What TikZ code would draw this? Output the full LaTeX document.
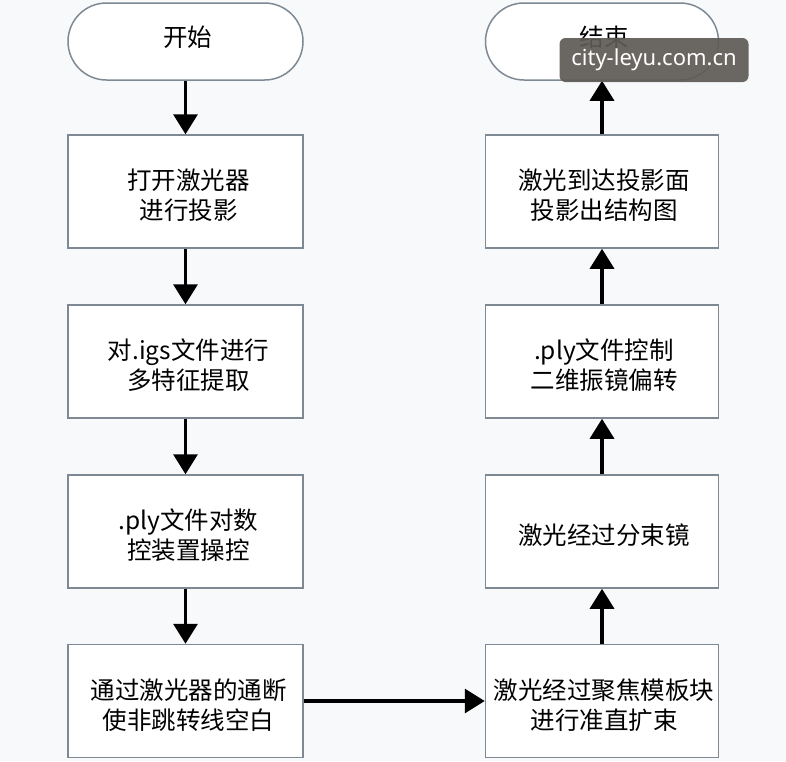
\documentclass[tikz,border=0pt]{standalone}
\usepackage{fontspec}
\newfontfamily\cjk{Noto Sans CJK SC}
\newfontfamily\wmfont{Noto Sans}
\usetikzlibrary{arrows.meta,shapes.misc}
\definecolor{bgc}{HTML}{F8F9FB}
\definecolor{boxc}{HTML}{7E8993}
\definecolor{wmc}{HTML}{5E5B56}
\tikzset{
  procbox/.style={draw=boxc, line width=1.5pt, fill=white, minimum width=235pt, minimum height=113pt, inner sep=0pt},
  termbox/.style={rounded rectangle, draw=boxc, line width=1.5pt, fill=white, minimum width=235pt, minimum height=77pt, inner sep=0pt},
  boxtext/.style={align=center, inner sep=0pt, font=\cjk\fontsize{24.5}{30}\selectfont},
  flowarrow/.style={line width=3.3pt, -{Triangle[width=24pt,length=20pt]}},
}
\begin{document}
\begin{tikzpicture}[x=1pt,y=-1pt]
\fill[bgc] (0,0) rectangle (786,761);
\useasboundingbox (0,0) rectangle (786,761);
\node[termbox] (start) at (185.5,41.5) {};
\node[procbox] (l1) at (185.5,191.5) {};
\node[procbox] (l2) at (185.5,361.5) {};
\node[procbox] (l3) at (185.5,531.5) {};
\node[procbox] (l4) at (185.5,701) {};
\node[termbox, minimum width=233pt] (end) at (602,41.5) {};
\node[procbox, minimum width=233pt] (r1) at (602,191.5) {};
\node[procbox, minimum width=233pt] (r2) at (602,361.5) {};
\node[procbox, minimum width=233pt] (r3) at (602,531.5) {};
\node[procbox, minimum width=233pt] (r4) at (602,701) {};
\node[boxtext] (startt) at ([xshift=2pt,yshift=4pt]start.center) {开始};
\node[boxtext] (l1t) at ([xshift=3pt,yshift=-4pt]l1.center) {打开激光器\\进行投影};
\node[boxtext] (l2t) at ([xshift=3pt,yshift=-4pt]l2.center) {对.igs文件进行\\多特征提取};
\node[boxtext] (l3t) at ([xshift=3pt,yshift=-4pt]l3.center) {.ply文件对数\\控装置操控};
\node[boxtext] (l4t) at ([xshift=3pt,yshift=-4pt]l4.center) {通过激光器的通断\\使非跳转线空白};
\node[boxtext] (endt) at ([xshift=2pt,yshift=4pt]end.center) {结束};
\node[boxtext] (r1t) at ([xshift=2pt,yshift=-4pt]r1.center) {激光到达投影面\\投影出结构图};
\node[boxtext] (r2t) at ([xshift=2pt,yshift=-4pt]r2.center) {.ply文件控制\\二维振镜偏转};
\node[boxtext] (r3t) at ([xshift=2pt,yshift=-4pt]r3.center) {激光经过分束镜};
\node[boxtext] (r4t) at ([xshift=2pt,yshift=-4pt]r4.center) {激光经过聚焦模板块\\进行准直扩束};
\draw[flowarrow] (start) -- (l1);
\draw[flowarrow] (l1) -- (l2);
\draw[flowarrow] (l2) -- (l3);
\draw[flowarrow] (l3) -- (l4);
\draw[flowarrow] (l4) -- (r4);
\draw[flowarrow] (r4) -- (r3);
\draw[flowarrow] (r3) -- (r2);
\draw[flowarrow] (r2) -- (r1);
\draw[flowarrow] (r1) -- (end);
\node[fill=wmc, fill opacity=0.92, text opacity=1, text=white, rounded corners=6pt, minimum width=189pt, minimum height=44pt, inner sep=0pt, font=\wmfont\fontsize{22}{26}\selectfont] (wm) at (654,60) {city-leyu.com.cn};
\end{tikzpicture}
\end{document}
